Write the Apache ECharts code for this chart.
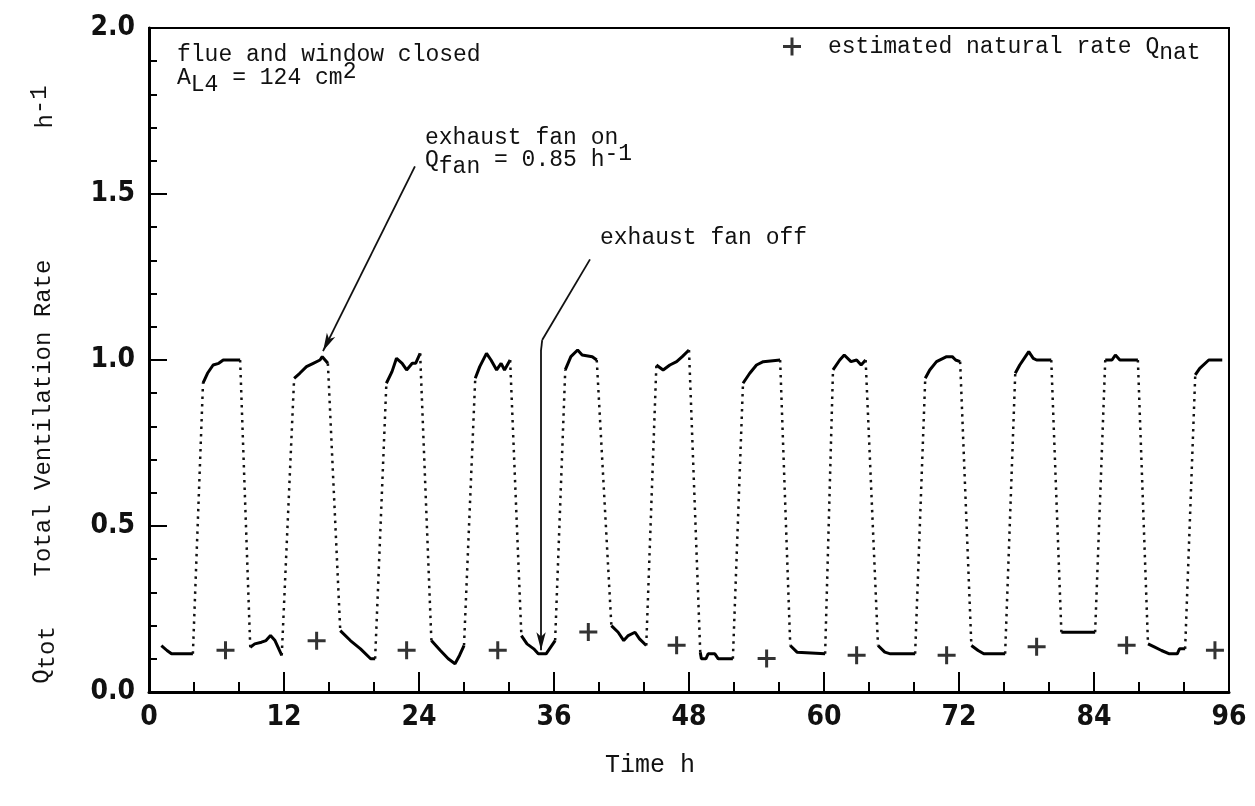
<!DOCTYPE html>
<html>
<head>
<meta charset="utf-8">
<script src="https://cdn.jsdelivr.net/npm/echarts@6/dist/echarts.min.js"></script>
<style>
  html, body { margin: 0; padding: 0; background: #fff; }
  #main { width: 1255px; height: 806px; }
</style>
</head>
<body>
<div id="main"></div>
<script>
// measured runs of the total ventilation rate Q_tot (h^-1) vs time (h)
// solid where the fan state is steady, dotted between runs
var qTotRuns = [
    [[1.1, 0.14], [1.6, 0.125], [2.0, 0.115], [3.9, 0.115]],
    [[4.8, 0.93], [5.2, 0.96], [5.7, 0.985], [6.2, 0.99], [6.6, 1.0], [8.1, 1.0]],
    [[9.0, 0.135], [9.4, 0.145], [10.0, 0.15], [10.4, 0.155], [10.8, 0.17], [11.2, 0.155], [11.8, 0.11]],
    [[12.9, 0.945], [13.4, 0.96], [14.0, 0.98], [14.6, 0.99], [15.2, 1.0], [15.4, 1.01], [15.9, 0.99]],
    [[17.0, 0.185], [17.9, 0.155], [18.8, 0.13], [19.7, 0.10], [20.1, 0.10]],
    [[21.1, 0.93], [21.6, 0.965], [22.0, 1.005], [22.5, 0.99], [22.9, 0.97], [23.4, 0.99], [23.7, 0.99], [24.1, 1.02]],
    [[25.1, 0.155], [25.9, 0.125], [26.6, 0.10], [27.2, 0.085], [27.6, 0.11], [28.0, 0.14]],
    [[29.0, 0.945], [29.4, 0.98], [30.0, 1.02], [30.4, 1.0], [30.9, 0.97], [31.3, 0.99], [31.6, 0.97], [32.1, 1.0]],
    [[33.1, 0.17], [33.6, 0.145], [34.2, 0.13], [34.6, 0.115], [35.3, 0.115], [35.6, 0.13], [36.1, 0.155]],
    [[37.0, 0.97], [37.5, 1.01], [38.1, 1.03], [38.5, 1.015], [39.4, 1.01], [39.8, 1.0]],
    [[41.1, 0.20], [41.7, 0.18], [42.2, 0.155], [42.6, 0.17], [43.2, 0.18], [43.6, 0.16], [44.2, 0.14]],
    [[45.1, 0.985], [45.7, 0.97], [46.3, 0.985], [46.9, 0.995], [47.4, 1.01], [48.0, 1.03]],
    [[49.0, 0.12], [49.1, 0.10], [49.5, 0.10], [49.7, 0.115], [50.3, 0.115], [50.6, 0.10], [51.9, 0.10]],
    [[52.8, 0.93], [53.4, 0.96], [54.0, 0.985], [54.6, 0.995], [56.1, 1.0]],
    [[57.0, 0.14], [57.6, 0.12], [60.1, 0.115]],
    [[60.8, 0.97], [61.4, 1.0], [61.8, 1.015], [62.4, 0.995], [62.9, 1.0], [63.3, 0.985], [63.7, 1.0]],
    [[64.8, 0.14], [65.4, 0.12], [65.9, 0.115], [68.1, 0.115]],
    [[69.0, 0.945], [69.4, 0.97], [70.0, 0.995], [70.9, 1.01], [71.4, 1.01], [71.7, 1.0], [72.1, 0.995]],
    [[73.1, 0.14], [73.7, 0.125], [74.2, 0.115], [76.1, 0.115]],
    [[77.0, 0.96], [77.4, 0.985], [77.9, 1.01], [78.2, 1.025], [78.6, 1.005], [78.9, 1.0], [80.2, 1.0]],
    [[81.1, 0.18], [84.1, 0.18]],
    [[85.0, 1.0], [85.6, 1.0], [85.9, 1.015], [86.3, 1.0], [87.9, 1.0]],
    [[88.8, 0.145], [89.4, 0.135], [90.0, 0.125], [90.7, 0.115], [91.4, 0.115], [91.6, 0.13], [92.1, 0.13]],
    [[93.0, 0.955], [93.4, 0.975], [94.2, 1.0], [95.4, 1.0]]
];

// estimated natural rate Q_nat
var natTime = [6.8, 14.9, 22.9, 31.0, 39.05, 46.9, 54.9, 62.9, 70.9, 78.9, 86.9, 94.75];
var natRate = [0.126, 0.154, 0.126, 0.126, 0.181, 0.141, 0.101, 0.111, 0.111, 0.136, 0.141, 0.126];

// arrow annotations, in data units [time, rate]
var fanOnArrow = [[23.64, 1.583], [15.47, 1.027]];
var fanOffArrow = [[39.2, 1.303], [34.95, 1.06], [34.85, 1.03], [34.85, 0.126]];

var monoFont = "'Courier New', 'Liberation Mono', monospace";
var tickFont = "'Liberation Sans Narrow', 'DejaVu Sans Condensed', sans-serif";
var plusIcon = 'path://M7.5,0h3v7.5h7.5v3h-7.5v7.5h-3v-7.5h-7.5v-3h7.5z';

var solidData = [];
var dottedData = [];
qTotRuns.forEach(function (run, i) {
    if (i > 0) {
        solidData.push(['-', '-']);
        var prev = qTotRuns[i - 1];
        dottedData.push(prev[prev.length - 1], run[0], ['-', '-']);
    }
    run.forEach(function (p) { solidData.push(p); });
});
var natData = natTime.map(function (t, i) { return [t, natRate[i]]; });

function arrowLines(pts) {
    var out = [];
    for (var i = 0; i < pts.length - 1; i++) {
        out.push([
            { coord: pts[i], symbol: 'none' },
            { coord: pts[i + 1], symbol: i === pts.length - 2 ? 'arrow' : 'none' }
        ]);
    }
    return out;
}

// rich styles for typewriter-like sub/superscripts (same size, half-line shift)
function richMono(size) {
    return {
        m: { fontFamily: monoFont, fontSize: size, fill: '#111', color: '#111', lineHeight: 36, verticalAlign: 'middle' },
        s: { fontFamily: monoFont, fontSize: size, fill: '#111', color: '#111', lineHeight: 36, verticalAlign: 'bottom' },
        p: { fontFamily: monoFont, fontSize: size, fill: '#111', color: '#111', lineHeight: 36, verticalAlign: 'top' }
    };
}

var myChart = echarts.init(document.getElementById('main'));
var option = {
    animation: false,
    backgroundColor: '#fff',
    grid: {
        left: 149, right: 26, top: 28, bottom: 114,
        show: true, borderColor: '#000', borderWidth: 2
    },
    legend: {
        left: 778, top: 30,
        icon: plusIcon,
        itemWidth: 18, itemHeight: 18,
        data: ['estimated natural rate Q_nat'],
        formatter: function () { return '{g|}{m|estimated natural rate Q}{s|nat}'; },
        textStyle: {
            rich: Object.assign({ g: { width: 22 } }, richMono(23))
        }
    },
    xAxis: {
        type: 'value', min: 0, max: 96, interval: 12,
        axisLine: { onZero: false, lineStyle: { color: '#000', width: 3 } },
        axisTick: { inside: true, length: 20, lineStyle: { width: 2 } },
        minorTick: { show: true, splitNumber: 3, length: 10, lineStyle: { color: '#000', width: 2 } },
        splitLine: { show: false },
        axisLabel: { margin: 12, fontFamily: tickFont, fontWeight: 'bold', fontSize: 28, color: '#111' }
    },
    yAxis: {
        type: 'value', min: 0, max: 2, interval: 0.5,
        axisLine: { show: true, lineStyle: { color: '#000', width: 3 } },
        axisTick: { show: true, inside: true, length: 18, lineStyle: { width: 2 } },
        minorTick: { show: true, splitNumber: 5, length: 8, lineStyle: { color: '#000', width: 2 } },
        splitLine: { show: false },
        axisLabel: {
            margin: 14, fontFamily: tickFont, fontWeight: 'bold', fontSize: 28, color: '#111',
            formatter: function (v) { return v.toFixed(1); }
        }
    },
    series: [
        {
            name: 'Q_tot',
            type: 'line',
            data: solidData,
            showSymbol: false,
            connectNulls: false,
            lineStyle: { color: '#000', width: 3 }
        },
        {
            name: 'transition',
            type: 'line',
            data: dottedData,
            showSymbol: false,
            connectNulls: false,
            lineStyle: { color: '#111', width: 2.5, type: [2.5, 5] }
        },
        {
            name: 'estimated natural rate Q_nat',
            type: 'scatter',
            data: natData,
            symbol: plusIcon,
            symbolSize: 18,
            itemStyle: { color: '#000' },
            markLine: {
                silent: true,
                animation: false,
                symbol: 'none',
                symbolSize: [7, 18],
                label: { show: false },
                lineStyle: { color: '#111', width: 1.8, type: 'solid' },
                data: arrowLines(fanOnArrow).concat(arrowLines(fanOffArrow))
            }
        }
    ],
    graphic: [
        { type: 'text', x: 177, y: 55, style: { text: 'flue and window closed', fontFamily: monoFont, fontSize: 23, fill: '#111', verticalAlign: 'middle' } },
        { type: 'text', x: 177, y: 78, style: { text: '{m|A}{s|L4}{m| = 124 cm}{p|2}', verticalAlign: 'middle', rich: richMono(23) } },
        { type: 'text', x: 425, y: 138, style: { text: 'exhaust fan on', fontFamily: monoFont, fontSize: 23, fill: '#111', verticalAlign: 'middle' } },
        { type: 'text', x: 425, y: 160, style: { text: '{m|Q}{s|fan}{m| = 0.85 h}{p|-1}', verticalAlign: 'middle', rich: richMono(23) } },
        { type: 'text', x: 600, y: 238, style: { text: 'exhaust fan off', fontFamily: monoFont, fontSize: 23, fill: '#111', verticalAlign: 'middle' } },
        { type: 'text', x: 44, y: 418, rotation: Math.PI / 2, style: { text: 'Total Ventilation Rate', fontFamily: monoFont, fontSize: 24, fill: '#111', align: 'center', verticalAlign: 'middle' } },
        { type: 'text', x: 42, y: 655, rotation: Math.PI / 2, style: { text: '{m|Q}{s|tot}', align: 'center', verticalAlign: 'middle', rich: richMono(24) } },
        { type: 'text', x: 46, y: 107, rotation: Math.PI / 2, style: { text: '{m|h}{p|-1}', align: 'center', verticalAlign: 'middle', rich: richMono(24) } },
        { type: 'text', x: 650, y: 765, style: { text: 'Time h', fontFamily: monoFont, fontSize: 25, fill: '#111', align: 'center', verticalAlign: 'middle' } }
    ]
};
myChart.setOption(option);
</script>
</body>
</html>
